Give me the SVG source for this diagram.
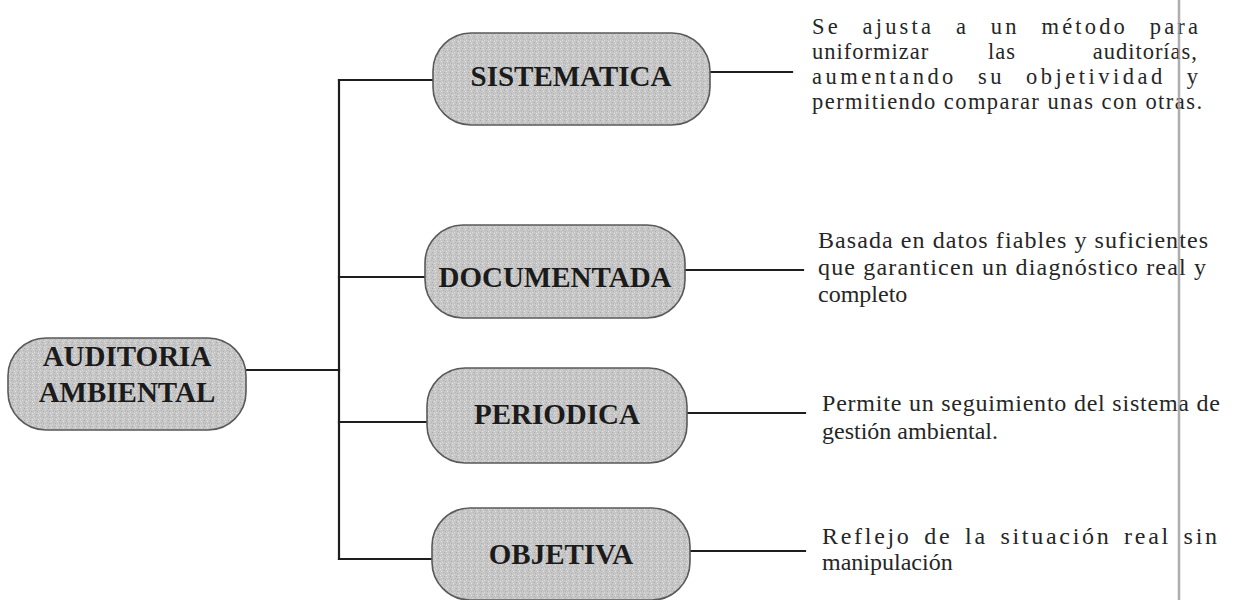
<svg xmlns="http://www.w3.org/2000/svg" width="1234" height="600" viewBox="0 0 1234 600">
  <style>
    .box { fill: url(#speckle); stroke: #5a5a5a; stroke-width: 1.6; }
    .lbl { font-family: "Liberation Serif", "Times New Roman", serif; font-weight: bold; font-size: 29px; fill: #1b1b1b; text-anchor: middle; }
    .desc { font-family: "Liberation Serif", "Times New Roman", serif; font-size: 24px; fill: #262626; }
    .desc1 { font-family: "Liberation Serif", "Times New Roman", serif; font-size: 22.5px; fill: #262626; }
    .con { stroke: #1e1e1e; stroke-width: 2.2; fill: none; stroke-linecap: square; }
  </style>
  <defs>
    <pattern id="speckle" width="6" height="6" patternUnits="userSpaceOnUse">
      <rect width="6" height="6" fill="#c6c6c6"/>
      <rect x="0" y="0" width="1" height="1" fill="#a9a9a9"/>
      <rect x="3" y="1" width="1" height="1" fill="#e2e2e2"/>
      <rect x="1" y="3" width="1" height="1" fill="#b0b0b0"/>
      <rect x="4" y="4" width="1" height="1" fill="#dadada"/>
      <rect x="5" y="2" width="1" height="1" fill="#b4b4b4"/>
      <rect x="2" y="5" width="1" height="1" fill="#e6e6e6"/>
    </pattern>
  </defs>
  <rect width="1234" height="600" fill="#ffffff"/>

  <g id="connectors">
    <line class="con" x1="246" y1="370" x2="339" y2="370"/>
    <line class="con" x1="339" y1="80" x2="339" y2="559"/>
    <line class="con" x1="339" y1="80" x2="433" y2="80"/>
    <line class="con" x1="339" y1="277" x2="425" y2="277"/>
    <line class="con" x1="339" y1="422" x2="427" y2="422"/>
    <line class="con" x1="339" y1="559" x2="432" y2="559"/>
    <line class="con" x1="710" y1="72" x2="792" y2="72"/>
    <line class="con" x1="685" y1="270" x2="803" y2="270"/>
    <line class="con" x1="687" y1="413" x2="805" y2="413"/>
    <line class="con" x1="690" y1="551" x2="805" y2="551"/>
  </g>

  <g id="auditoria">
    <rect class="box" x="8" y="338" width="238" height="92" rx="38"/>
    <text class="lbl" x="127" y="366">AUDITORIA</text>
    <text class="lbl" x="127" y="402">AMBIENTAL</text>
  </g>

  <g id="sistematica">
    <rect class="box" x="433" y="33" width="277" height="92" rx="38"/>
    <text class="lbl" x="571" y="86">SISTEMATICA</text>
  </g>

  <g id="documentada">
    <rect class="box" x="425" y="225" width="260" height="93" rx="38"/>
    <text class="lbl" x="555" y="287">DOCUMENTADA</text>
  </g>

  <g id="periodica">
    <rect class="box" x="427" y="368" width="260" height="95" rx="38"/>
    <text class="lbl" x="557" y="424">PERIODICA</text>
  </g>

  <g id="objetiva">
    <rect class="box" x="432" y="508" width="258" height="92" rx="38"/>
    <text class="lbl" x="561" y="564">OBJETIVA</text>
  </g>

  <g id="desc-sistematica">
    <text class="desc1" x="812" y="34" word-spacing="13" textLength="386" lengthAdjust="spacing">Se ajusta a un método para</text>
    <text class="desc1" y="59" letter-spacing="1"><tspan x="812">uniformizar</tspan><tspan x="988">las</tspan><tspan x="1198" text-anchor="end">auditorías,</tspan></text>
    <text class="desc1" x="812" y="84" word-spacing="12" textLength="386" lengthAdjust="spacing">aumentando su objetividad y</text>
    <text class="desc1" x="812" y="109" textLength="390" lengthAdjust="spacing">permitiendo comparar unas con otras.</text>
  </g>

  <g id="desc-documentada">
    <text class="desc" x="818" y="248" textLength="390" lengthAdjust="spacing">Basada en datos fiables y suficientes</text>
    <text class="desc" x="818" y="275" textLength="388" lengthAdjust="spacing">que garanticen un diagnóstico real y</text>
    <text class="desc" x="818" y="302">completo</text>
  </g>

  <g id="desc-periodica">
    <text class="desc" x="822" y="411" textLength="398" lengthAdjust="spacing">Permite un seguimiento del sistema de</text>
    <text class="desc" x="822" y="439">gestión ambiental.</text>
  </g>

  <g id="desc-objetiva">
    <text class="desc" x="822" y="544" word-spacing="4" textLength="395" lengthAdjust="spacing">Reflejo de la situación real sin</text>
    <text class="desc" x="822" y="570">manipulación</text>
  </g>

  <line x1="1179" y1="0" x2="1179" y2="600" stroke="#9a9a9a" stroke-width="2.5" opacity="0.8"/>
</svg>
